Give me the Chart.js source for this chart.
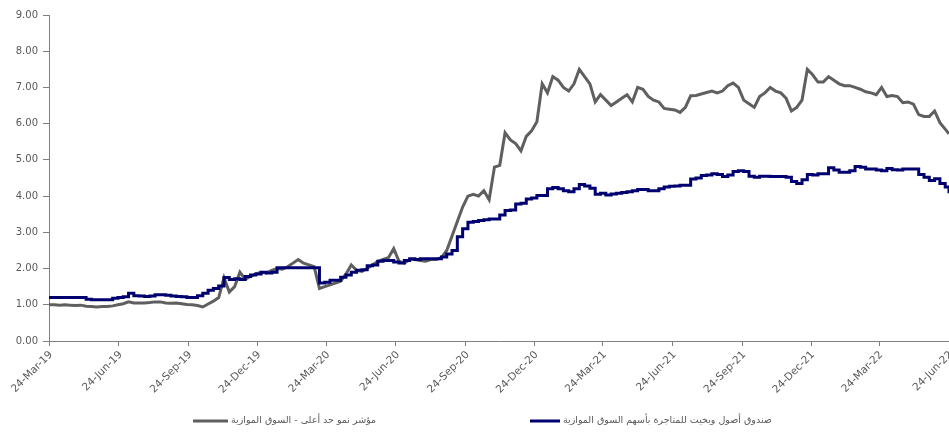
<!DOCTYPE html>
<html>
<head>
<meta charset="utf-8">
<script src="https://cdn.jsdelivr.net/npm/chart.js@4"></script>
<style>
  body { margin: 0; background: #fff; }
  #wrap { width: 949px; height: 432px; position: relative; }
</style>
</head>
<body>
<div id="wrap"><canvas id="chart"></canvas></div>
<script>
// Weekly readings starting 24-Mar-2019 (last point pinned to 24-Jun-2022)
const startDate = '2019-03-24';
const endDate = '2022-06-24';

const tickDates = [
    '2019-03-24', '2019-06-24', '2019-09-24', '2019-12-24',
    '2020-03-24', '2020-06-24', '2020-09-24', '2020-12-24',
    '2021-03-24', '2021-06-24', '2021-09-24', '2021-12-24',
    '2022-03-24', '2022-06-24'
];
const tickLabels = [
    '24-Mar-19', '24-Jun-19', '24-Sep-19', '24-Dec-19',
    '24-Mar-20', '24-Jun-20', '24-Sep-20', '24-Dec-20',
    '24-Mar-21', '24-Jun-21', '24-Sep-21', '24-Dec-21',
    '24-Mar-22', '24-Jun-22'
];

const seriesNames = [
    'مؤشر نمو حد أعلى - السوق الموازية',
    'صندوق أصول وبخيت للمتاجرة بأسهم السوق الموازية'
];

// مؤشر نمو حد أعلى
const growthIndex = [
    1.00, 1.00, 0.99, 1.00, 0.99, 0.98, 0.99, 0.96, 0.95, 0.94,
    0.95, 0.95, 0.97, 1.00, 1.03, 1.08, 1.05, 1.05, 1.05, 1.06,
    1.08, 1.08, 1.05, 1.04, 1.05, 1.03, 1.01, 1.00, 0.98, 0.94,
    1.02, 1.10, 1.20, 1.75, 1.35, 1.50, 1.90, 1.70, 1.78, 1.85,
    1.90, 1.88, 1.95, 2.00, 1.98, 2.05, 2.15, 2.25, 2.15, 2.10,
    2.05, 1.45, 1.50, 1.55, 1.60, 1.65, 1.85, 2.10, 1.95, 1.92,
    2.00, 2.10, 2.20, 2.25, 2.30, 2.55, 2.20, 2.15, 2.25, 2.25,
    2.22, 2.20, 2.25, 2.25, 2.30, 2.50, 2.90, 3.30, 3.70, 4.00,
    4.05, 4.00, 4.15, 3.90, 4.80, 4.85, 5.75, 5.55, 5.45, 5.25,
    5.65, 5.80, 6.05, 7.10, 6.85, 7.30, 7.20, 7.00, 6.90, 7.10,
    7.50, 7.30, 7.10, 6.60, 6.80, 6.65, 6.50, 6.60, 6.70, 6.80,
    6.60, 7.00, 6.95, 6.75, 6.65, 6.60, 6.42, 6.40, 6.38, 6.31,
    6.45, 6.77, 6.78, 6.82, 6.86, 6.90, 6.85, 6.90, 7.05, 7.12,
    7.00, 6.65, 6.55, 6.45, 6.75, 6.85, 7.00, 6.90, 6.85, 6.70,
    6.35, 6.45, 6.65, 7.50, 7.35, 7.15, 7.15, 7.30, 7.20, 7.10,
    7.05, 7.05, 7.00, 6.95, 6.88, 6.85, 6.80, 7.00, 6.75, 6.78,
    6.75, 6.58, 6.60, 6.54, 6.25, 6.20, 6.20, 6.35, 6.03, 5.85,
    5.72
];

// صندوق أصول وبخيت
const fundNav = [
    1.20, 1.20, 1.20, 1.20, 1.20, 1.20, 1.20, 1.15, 1.14, 1.14,
    1.14, 1.14, 1.18, 1.20, 1.22, 1.32, 1.25, 1.24, 1.23, 1.24,
    1.28, 1.28, 1.26, 1.24, 1.23, 1.22, 1.20, 1.20, 1.25, 1.32,
    1.40, 1.45, 1.52, 1.75, 1.70, 1.72, 1.70, 1.78, 1.82, 1.85,
    1.90, 1.88, 1.90, 2.02, 2.02, 2.02, 2.02, 2.02, 2.02, 2.02,
    2.02, 1.60, 1.62, 1.68, 1.68, 1.76, 1.82, 1.90, 1.95, 1.97,
    2.08, 2.10, 2.20, 2.22, 2.22, 2.18, 2.15, 2.22, 2.27, 2.25,
    2.27, 2.27, 2.27, 2.27, 2.32, 2.40, 2.50, 2.88, 3.10, 3.28,
    3.30, 3.33, 3.35, 3.37, 3.37, 3.48, 3.60, 3.62, 3.78, 3.80,
    3.92, 3.95, 4.02, 4.02, 4.20, 4.24, 4.20, 4.15, 4.12, 4.20,
    4.32, 4.28, 4.22, 4.05, 4.08, 4.03, 4.06, 4.08, 4.10, 4.12,
    4.15, 4.18, 4.18, 4.15, 4.15, 4.20, 4.25, 4.27, 4.28, 4.30,
    4.30, 4.47, 4.50, 4.57, 4.58, 4.62, 4.60, 4.54, 4.58, 4.68,
    4.70, 4.68, 4.55, 4.52, 4.55, 4.55, 4.54, 4.54, 4.54, 4.52,
    4.40, 4.35, 4.45, 4.60, 4.58, 4.62, 4.62, 4.78, 4.72, 4.66,
    4.66, 4.70, 4.82, 4.80, 4.75, 4.75, 4.72, 4.70, 4.76, 4.73,
    4.72, 4.75, 4.75, 4.75, 4.60, 4.52, 4.43, 4.48, 4.35, 4.25,
    4.08
];

const DAY = 86400000;
const dayOf = s => Math.round((Date.parse(s) - Date.parse(startDate)) / DAY);
const lastDay = dayOf(endDate);
const tickDays = tickDates.map(dayOf);

function toPoints(values) {
    return values.map((v, i) => ({ x: Math.min(i * 7, lastDay), y: v }));
}

const axisColor = '#7f7f7f';
const textColor = '#595959';

// Date labels at 45 degrees, placed through the x scale
const dateLabels = {
    id: 'dateLabels',
    afterDraw(chart) {
        const ctx = chart.ctx;
        const xScale = chart.scales.x;
        ctx.save();
        ctx.font = '10.5px "DejaVu Sans"';
        ctx.fillStyle = textColor;
        ctx.textAlign = 'right';
        ctx.textBaseline = 'middle';
        tickDays.forEach((d, i) => {
            const x = xScale.getPixelForValue(d);
            ctx.save();
            ctx.translate(x + 2, xScale.top + 12);
            ctx.rotate(-Math.PI / 4);
            ctx.fillText(tickLabels[i], 0, 0);
            ctx.restore();
        });
        ctx.restore();
    }
};

// Legend drawn by hand: the two entries sit far apart, which the built-in legend can't do
const legendRow = {
    id: 'legendRow',
    afterDraw(chart) {
        const ctx = chart.ctx;
        const slots = [{ x: 193, w: 35 }, { x: 530, w: 30 }];
        const y = 421;
        ctx.save();
        ctx.font = '9.5px "DejaVu Sans"';
        ctx.textBaseline = 'middle';
        ctx.textAlign = 'left';
        chart.data.datasets.forEach((ds, i) => {
            const s = slots[i];
            ctx.strokeStyle = ds.borderColor;
            ctx.lineWidth = 3;
            ctx.beginPath();
            ctx.moveTo(s.x, y);
            ctx.lineTo(s.x + s.w, y);
            ctx.stroke();
            ctx.fillStyle = textColor;
            ctx.fillText(ds.label, s.x + s.w + 3, y);
        });
        ctx.restore();
    }
};

new Chart(document.getElementById('chart'), {
    type: 'line',
    data: {
        datasets: [
            {
                label: seriesNames[0],
                data: toPoints(growthIndex),
                borderColor: '#5f5f5f',
                backgroundColor: '#5f5f5f',
                borderWidth: 3,
                pointRadius: 0,
                tension: 0,
                order: 1
            },
            {
                label: seriesNames[1],
                data: toPoints(fundNav),
                borderColor: '#000070',
                backgroundColor: '#000070',
                borderWidth: 3,
                pointRadius: 0,
                stepped: true,
                order: 0
            }
        ]
    },
    options: {
        responsive: true,
        maintainAspectRatio: false,
        animation: false,
        layout: { padding: { top: 15, right: 0, left: 0, bottom: 0 } },
        plugins: {
            legend: { display: false },
            tooltip: { enabled: false }
        },
        scales: {
            x: {
                type: 'linear',
                min: 0,
                max: lastDay,
                afterBuildTicks: scale => {
                    scale.ticks = tickDays.map(v => ({ value: v }));
                },
                afterFit: scale => { scale.height = 91; },
                ticks: { display: false },
                grid: { drawOnChartArea: false, tickLength: 5, color: axisColor },
                border: { color: axisColor, width: 1 }
            },
            y: {
                min: 0,
                max: 9,
                afterFit: scale => { scale.width = 49; },
                ticks: {
                    stepSize: 1,
                    color: textColor,
                    font: { family: 'DejaVu Sans', size: 10 },
                    padding: 5,
                    callback: v => v.toFixed(2)
                },
                grid: { drawOnChartArea: false, tickLength: 6, color: axisColor },
                border: { color: axisColor, width: 1 }
            }
        }
    },
    plugins: [dateLabels, legendRow]
});
</script>
</body>
</html>
